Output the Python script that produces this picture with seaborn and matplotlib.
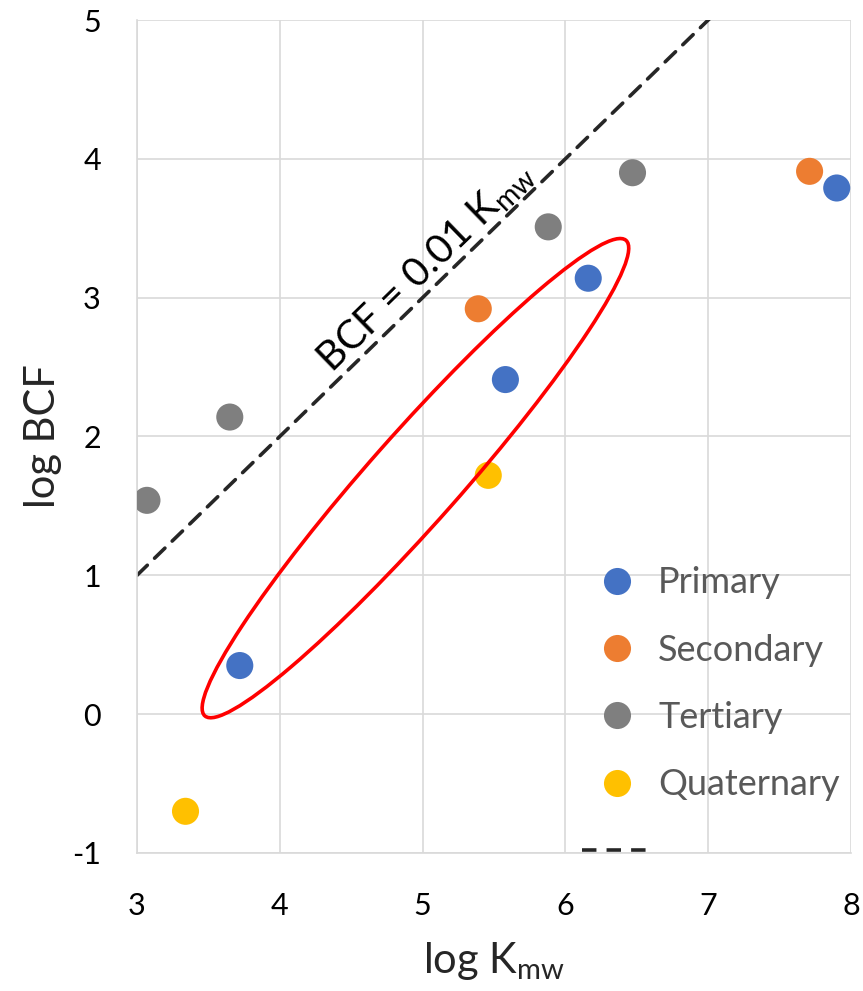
import numpy as np
import pandas as pd
import seaborn as sns
import matplotlib.pyplot as plt
from matplotlib.patches import Ellipse
from matplotlib.lines import Line2D

# datos
primary_kmw = [3.72, 5.58, 6.16, 7.90]
primary_bcf = [0.35, 2.41, 3.14, 3.79]
secondary_kmw = [5.39, 7.71]
secondary_bcf = [2.92, 3.91]
tertiary_kmw = [3.07, 3.65, 5.88, 6.47]
tertiary_bcf = [1.54, 2.14, 3.51, 3.90]
quaternary_kmw = [3.34, 5.46]
quaternary_bcf = [-0.70, 1.72]

categories = ["Primary", "Secondary", "Tertiary", "Quaternary"]
colors = ["#4472C4", "#ED7D31", "#7F7F7F", "#FFC000"]

df = pd.concat([
    pd.DataFrame({"kmw": primary_kmw, "bcf": primary_bcf, "tipo": "Primary"}),
    pd.DataFrame({"kmw": secondary_kmw, "bcf": secondary_bcf, "tipo": "Secondary"}),
    pd.DataFrame({"kmw": tertiary_kmw, "bcf": tertiary_bcf, "tipo": "Tertiary"}),
    pd.DataFrame({"kmw": quaternary_kmw, "bcf": quaternary_bcf, "tipo": "Quaternary"}),
], ignore_index=True)

sns.set_style("white")
plt.rcParams["font.family"] = ["Lato", "DejaVu Sans"]
plt.rcParams["mathtext.fontset"] = "custom"
plt.rcParams["mathtext.rm"] = "Lato"
plt.rcParams["mathtext.it"] = "Lato:italic"
plt.rcParams["axes.unicode_minus"] = False

fig = plt.figure(figsize=(8.63, 9.91), dpi=100)
ax = fig.add_axes([0.1587, 0.1393, 0.8274, 0.8405])
ax.set_xlim(3, 8)
ax.set_ylim(-1, 5)

grid_c = "#D9D9D9"
ax.grid(True, color=grid_c, linewidth=1.2)
ax.set_axisbelow(True)
for s in ax.spines.values():
    s.set_color(grid_c)
    s.set_linewidth(1.2)
ax.spines["top"].set_visible(False)
ax.spines["right"].set_visible(False)

# linea BCF = 0.01 Kmw  -> log BCF = log Kmw - 2
line_x = np.array([3.0, 8.0])
line_y = line_x + np.log10(0.01)
ax.plot(line_x, line_y, color="#262626", linewidth=2.6, dashes=(4, 2.8),
        dash_capstyle="round", zorder=2)

sns.scatterplot(data=df, x="kmw", y="bcf", hue="tipo", hue_order=categories,
                palette=dict(zip(categories, colors)), s=380, linewidth=0,
                ax=ax, zorder=3, legend=False)

# elipse roja
ax.add_patch(Ellipse((4.95, 1.70), width=4.52, height=0.64, angle=49.3,
                     fill=False, edgecolor="#FF0000", linewidth=2.6, zorder=4))

# texto sobre la linea
p1 = ax.transData.transform((3, 1))
p2 = ax.transData.transform((7, 5))
ang = np.degrees(np.arctan2(p2[1] - p1[1], p2[0] - p1[0]))
ax.text(4.37, 2.45, "BCF = 0.01 K$_\\mathrm{mw}$", rotation=ang, rotation_mode="anchor",
        ha="left", va="baseline", fontsize=29, color="black", zorder=5)

ax.set_xticks([3, 4, 5, 6, 7, 8])
ax.set_yticks([-1, 0, 1, 2, 3, 4, 5])
ax.tick_params(axis="both", length=0, labelsize=22, colors="black")
ax.tick_params(axis="x", pad=28)
ax.tick_params(axis="y", pad=26)
ax.set_xlabel("log K$_\\mathrm{mw}$", fontsize=30)
ax.set_ylabel("log BCF", fontsize=30)
ax.xaxis.set_label_coords(0.5, -0.105)
ax.yaxis.set_label_coords(-0.105, 0.5)

handles = [Line2D([], [], marker="o", linestyle="none", markersize=19.5,
                  markerfacecolor=c, markeredgewidth=0) for c in colors]
handles.append(Line2D([], [], color="#262626", linewidth=2.6, dashes=(4, 2.8)))
labels = categories + [""]
leg = ax.legend(handles, labels, loc="lower left", bbox_to_anchor=(0.603, -0.036),
                frameon=False, fontsize=26, handlelength=1.94, handletextpad=0.17,
                labelspacing=0.95, borderaxespad=0)
for t in leg.get_texts():
    t.set_color("#595959")

fig.savefig("out.png", dpi=100)
